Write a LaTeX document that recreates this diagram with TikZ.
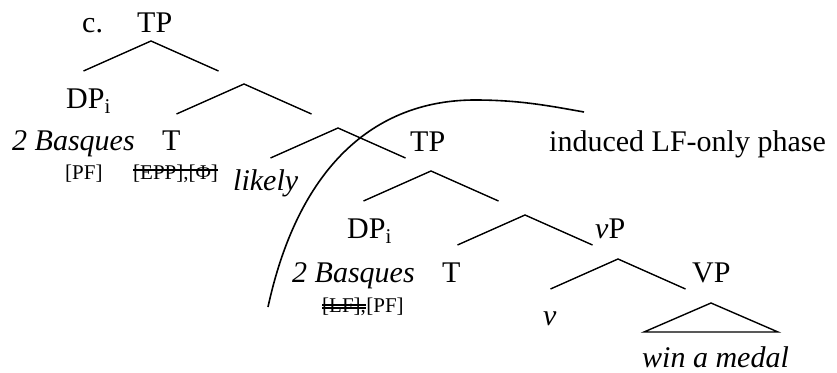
\documentclass[tikz,border=0pt]{standalone}
\usepackage{fontspec}
\setmainfont{Liberation Serif}
\usetikzlibrary{positioning}

\tikzset{
	cat/.style={inner sep=0pt, anchor=base west, font=\fontsize{30}{36}\selectfont},
	feat/.style={inner sep=0pt, anchor=base west, font=\fontsize{21}{25}\selectfont},
	branch/.style={line width=1.4pt},
	strike/.style={line width=1.2pt}
}

\begin{document}
\begin{tikzpicture}[x=1pt, y=-1pt]
	\useasboundingbox (0,0) rectangle (837,372);

	% Branch points:
	\coordinate (b1) at (151, 41);
	\coordinate (b2) at (244, 84);
	\coordinate (b3) at (338, 128);
	\coordinate (b4) at (431, 171);
	\coordinate (b5) at (525, 215);
	\coordinate (b6) at (618, 259);
	\coordinate (tri) at (711, 303);

	% Phase boundary:
	\coordinate (arcstart) at (268, 307);
	\coordinate (arctop) at (475, 100);
	\coordinate (arcend) at (584, 112);

	% Nodes:
	\node[cat] (ex) at (82, 32) {c.};
	\node[cat] (tp1) at (137, 32) {TP};
	\node[cat] (dp1) at (66, 108) {DP\textsubscript{i}};
	\node[cat] (bsq1) at (12, 150) {\textit{2 Basques}};
	\node[cat] (t1) at (162, 150) {T};
	\node[feat] (pf1) at (65, 179) {[PF]};
	\node[feat] (epp) at (133, 179) {[EPP],[\char"03A6]};
	\node[cat] (likely) at (233, 190) {\textit{likely}};
	\node[cat] (tp2) at (410, 151) {TP};
	\node[cat] (phase) at (549, 151) {induced LF-only phase};
	\node[cat] (dp2) at (347, 238) {DP\textsubscript{i}};
	\node[cat] (bsq2) at (292, 282) {\textit{2 Basques}};
	\node[cat] (t2) at (442, 282) {T};
	\node[feat] (lf) at (322, 312) {[LF],};
	\node[feat, base right=0pt of lf] (pf2) {[PF]};
	\node[cat] (vp) at (595, 238) {\textit{v}P};
	\node[cat] (VP) at (692, 282) {VP};
	\node[cat] (v) at (543, 325) {\textit{v}};
	\node[cat] (medal) at (642, 367) {\textit{win a medal}};

	% Lines:
	\foreach \b in {b1, b2, b3, b4, b5, b6}
		\draw[branch] ([shift={(-67.5, 30)}]\b) -- (\b) -- ([shift={(67.5, 30)}]\b);
	\draw[branch] (tri) -- ([shift={(-67, 29)}]tri) -- ([shift={(67, 29)}]tri) -- cycle;

	\draw[branch, line width=1.6pt] (arcstart) .. controls (300, 160) and (380, 100) .. (arctop)
		.. controls (520, 100) and (550, 106) .. (arcend);

	% Strike-outs
	\draw[strike] ([yshift=9pt]epp.base west) -- ([yshift=9pt]epp.base east);
	\draw[strike] ([yshift=7pt]lf.base west) -- ([yshift=7pt]lf.base east);
	\draw[strike] ([yshift=4pt]lf.base west) -- ([yshift=4pt]lf.base east);

\end{tikzpicture}
\end{document}
